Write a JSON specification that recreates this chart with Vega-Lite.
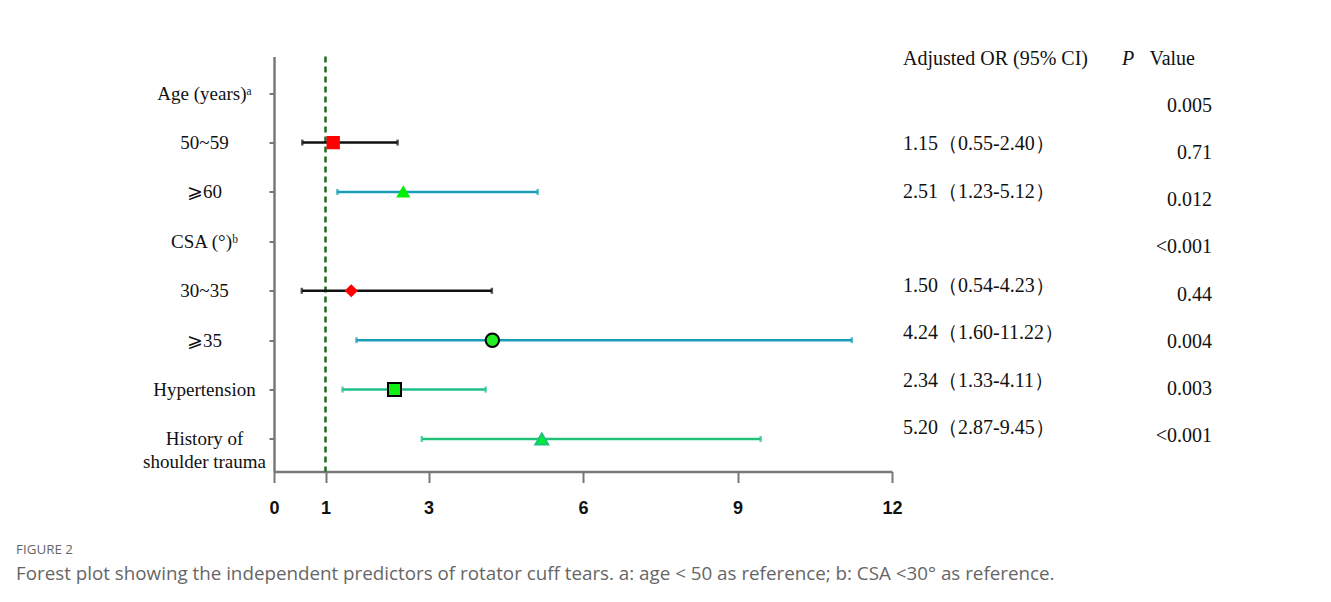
{
  "$schema": "https://vega.github.io/schema/vega-lite/v6.json",
  "background": "white",
  "padding": {"left": 16, "top": 48.5, "right": 10, "bottom": 30},
  "bounds": "flush",
  "spacing": 11,
  "config": {"view": {"stroke": null}},
  "datasets": {
    "rows": [
      {"label": "Age (years)ᵃ", "or": null, "lo": null, "hi": null, "ci": "", "p": "0.005"},
      {"label": "50~59", "or": 1.15, "lo": 0.55, "hi": 2.40, "ci": "1.15（0.55-2.40）", "p": "0.71"},
      {"label": "⩾60", "or": 2.51, "lo": 1.23, "hi": 5.12, "ci": "2.51（1.23-5.12）", "p": "0.012"},
      {"label": "CSA (°)ᵇ", "or": null, "lo": null, "hi": null, "ci": "", "p": "<0.001"},
      {"label": "30~35", "or": 1.50, "lo": 0.54, "hi": 4.23, "ci": "1.50（0.54-4.23）", "p": "0.44"},
      {"label": "⩾35", "or": 4.24, "lo": 1.60, "hi": 11.22, "ci": "4.24（1.60-11.22）", "p": "0.004"},
      {"label": "Hypertension", "or": 2.34, "lo": 1.33, "hi": 4.11, "ci": "2.34（1.33-4.11）", "p": "0.003"},
      {"label": "History of shoulder trauma", "or": 5.20, "lo": 2.87, "hi": 9.45, "ci": "5.20（2.87-9.45）", "p": "<0.001"}
    ]
  },
  "hconcat": [
    {
      "width": 618,
      "height": 415,
      "title": {
        "text": "FIGURE 2",
        "subtitle": "Forest plot showing the independent predictors of rotator cuff tears. a: age < 50 as reference; b: CSA <30° as reference.",
        "orient": "bottom",
        "anchor": "start",
        "frame": "group",
        "dx": -258,
        "offset": 25,
        "limit": 0,
        "subtitleLimit": 0,
        "font": "Open Sans",
        "fontSize": 13.4,
        "fontWeight": "normal",
        "color": "#666666",
        "subtitleFont": "Open Sans",
        "subtitleFontSize": 18.8,
        "subtitleColor": "#666666",
        "subtitlePadding": 9.5
      },
      "data": {"name": "rows"},
      "layer": [
        {
          "data": {"values": [{"ref": 1}]},
          "mark": {"type": "rule", "color": "#1f6b1f", "strokeWidth": 2.5, "strokeDash": [6, 4]},
          "encoding": {
            "x": {
              "field": "ref", "type": "quantitative",
              "scale": {"domain": [0, 12], "nice": false, "zero": false},
              "axis": {
                "values": [0, 1, 3, 6, 9, 12], "title": null, "grid": false,
                "domainColor": "#787878", "domainWidth": 2.5,
                "tickColor": "#787878", "tickWidth": 2, "tickSize": 11,
                "labelFont": "Liberation Sans Narrow, Liberation Sans", "labelFontWeight": "bold",
                "labelFontSize": 18, "labelColor": "#111111", "labelPadding": 17,
                "labelFlush": false, "labelOverlap": false
              }
            }
          }
        },
        {
          "mark": {"type": "rule", "strokeWidth": 2.5},
          "encoding": {
            "x": {"field": "lo", "type": "quantitative"},
            "x2": {"field": "hi"},
            "y": {
              "field": "label", "type": "nominal",
              "scale": {
                "type": "point", "padding": 0.7, "align": 0.53,
                "domain": ["Age (years)ᵃ", "50~59", "⩾60", "CSA (°)ᵇ", "30~35", "⩾35", "Hypertension", "History of shoulder trauma"]
              },
              "axis": {
                "title": null, "grid": false,
                "domainColor": "#787878", "domainWidth": 2.5,
                "tickColor": "#787878", "tickWidth": 2, "tickSize": 5,
                "labelFont": "Liberation Serif", "labelFontSize": 19, "labelColor": "#111111",
                "labelAlign": "center", "labelPadding": 65, "labelLineHeight": 23, "labelLimit": 400,
                "labelExpr": "datum.value == 'History of shoulder trauma' ? ['History of', 'shoulder trauma'] : datum.label"
              }
            },
            "color": {
              "field": "label", "type": "nominal", "legend": null,
              "scale": {
                "domain": ["50~59", "⩾60", "30~35", "⩾35", "Hypertension", "History of shoulder trauma"],
                "range": ["#111111", "#1a9db8", "#111111", "#1a9db8", "#1fbf8c", "#20c27a"]
              }
            }
          }
        },
        {
          "mark": {"type": "tick", "orient": "vertical", "size": 6, "thickness": 2.5},
          "encoding": {
            "x": {"field": "lo", "type": "quantitative"},
            "y": {"field": "label", "type": "nominal"},
            "color": {"field": "label", "type": "nominal", "legend": null}
          }
        },
        {
          "mark": {"type": "tick", "orient": "vertical", "size": 6, "thickness": 2.5},
          "encoding": {
            "x": {"field": "hi", "type": "quantitative"},
            "y": {"field": "label", "type": "nominal"},
            "color": {"field": "label", "type": "nominal", "legend": null}
          }
        },
        {
          "mark": {"type": "point", "filled": true, "opacity": 1, "strokeWidth": 2},
          "encoding": {
            "x": {"field": "or", "type": "quantitative"},
            "y": {"field": "label", "type": "nominal"},
            "shape": {
              "field": "label", "type": "nominal", "legend": null,
              "scale": {
                "domain": ["50~59", "⩾60", "30~35", "⩾35", "Hypertension", "History of shoulder trauma"],
                "range": ["square", "triangle-up", "diamond", "circle", "square", "triangle-up"]
              }
            },
            "fill": {
              "field": "label", "type": "nominal", "legend": null,
              "scale": {
                "domain": ["50~59", "⩾60", "30~35", "⩾35", "Hypertension", "History of shoulder trauma"],
                "range": ["#ff0000", "#00ee00", "#ff0000", "#22ee22", "#11ee11", "#00ee33"]
              }
            },
            "stroke": {
              "field": "label", "type": "nominal", "legend": null,
              "scale": {
                "domain": ["50~59", "⩾60", "30~35", "⩾35", "Hypertension", "History of shoulder trauma"],
                "range": ["#ff0000", "#00ee00", "#ff0000", "#000000", "#000000", "#1ec27a"]
              }
            },
            "size": {
              "field": "label", "type": "nominal", "legend": null,
              "scale": {
                "type": "ordinal",
                "domain": ["50~59", "⩾60", "30~35", "⩾35", "Hypertension", "History of shoulder trauma"],
                "range": [128, 115, 106, 180, 169, 165]
              }
            }
          }
        }
      ]
    },
    {
      "width": 309,
      "height": 415,
      "data": {"name": "rows"},
      "layer": [
        {
          "data": {"values": [{"row": "hdr", "t": "Adjusted OR (95% CI)"}]},
          "mark": {"type": "text", "align": "left", "baseline": "middle", "font": "Liberation Serif", "fontSize": 20, "color": "#111111"},
          "encoding": {
            "x": {"datum": "OR", "type": "nominal", "scale": {"type": "point", "domain": ["OR", "P"], "padding": 0}, "axis": null},
            "y": {
              "field": "row", "type": "nominal", "axis": null,
              "scale": {
                "type": "point", "padding": 0.392, "align": 0.054,
                "domain": ["hdr", "Age (years)ᵃ", "50~59", "⩾60", "CSA (°)ᵇ", "30~35", "⩾35", "Hypertension", "History of shoulder trauma"]
              }
            },
            "text": {"field": "t"}
          }
        },
        {
          "data": {"values": [{"row": "hdr", "t": "P"}]},
          "mark": {"type": "text", "align": "left", "baseline": "middle", "font": "Liberation Serif", "fontSize": 20, "fontStyle": "italic", "color": "#111111", "dx": -90},
          "encoding": {
            "x": {"datum": "P", "type": "nominal"},
            "y": {"field": "row", "type": "nominal"},
            "text": {"field": "t"}
          }
        },
        {
          "data": {"values": [{"row": "hdr", "t": "Value"}]},
          "mark": {"type": "text", "align": "right", "baseline": "middle", "font": "Liberation Serif", "fontSize": 20, "color": "#111111", "dx": -17},
          "encoding": {
            "x": {"datum": "P", "type": "nominal"},
            "y": {"field": "row", "type": "nominal"},
            "text": {"field": "t"}
          }
        },
        {
          "mark": {"type": "text", "align": "left", "baseline": "middle", "font": "Liberation Serif", "fontSize": 20, "color": "#111111", "dy": -8.5},
          "encoding": {
            "x": {"datum": "OR", "type": "nominal"},
            "y": {"field": "label", "type": "nominal"},
            "text": {"field": "ci"}
          }
        },
        {
          "mark": {"type": "text", "align": "right", "baseline": "middle", "font": "Liberation Serif", "fontSize": 20, "color": "#111111"},
          "encoding": {
            "x": {"datum": "P", "type": "nominal"},
            "y": {"field": "label", "type": "nominal"},
            "text": {"field": "p"}
          }
        }
      ]
    }
  ]
}
